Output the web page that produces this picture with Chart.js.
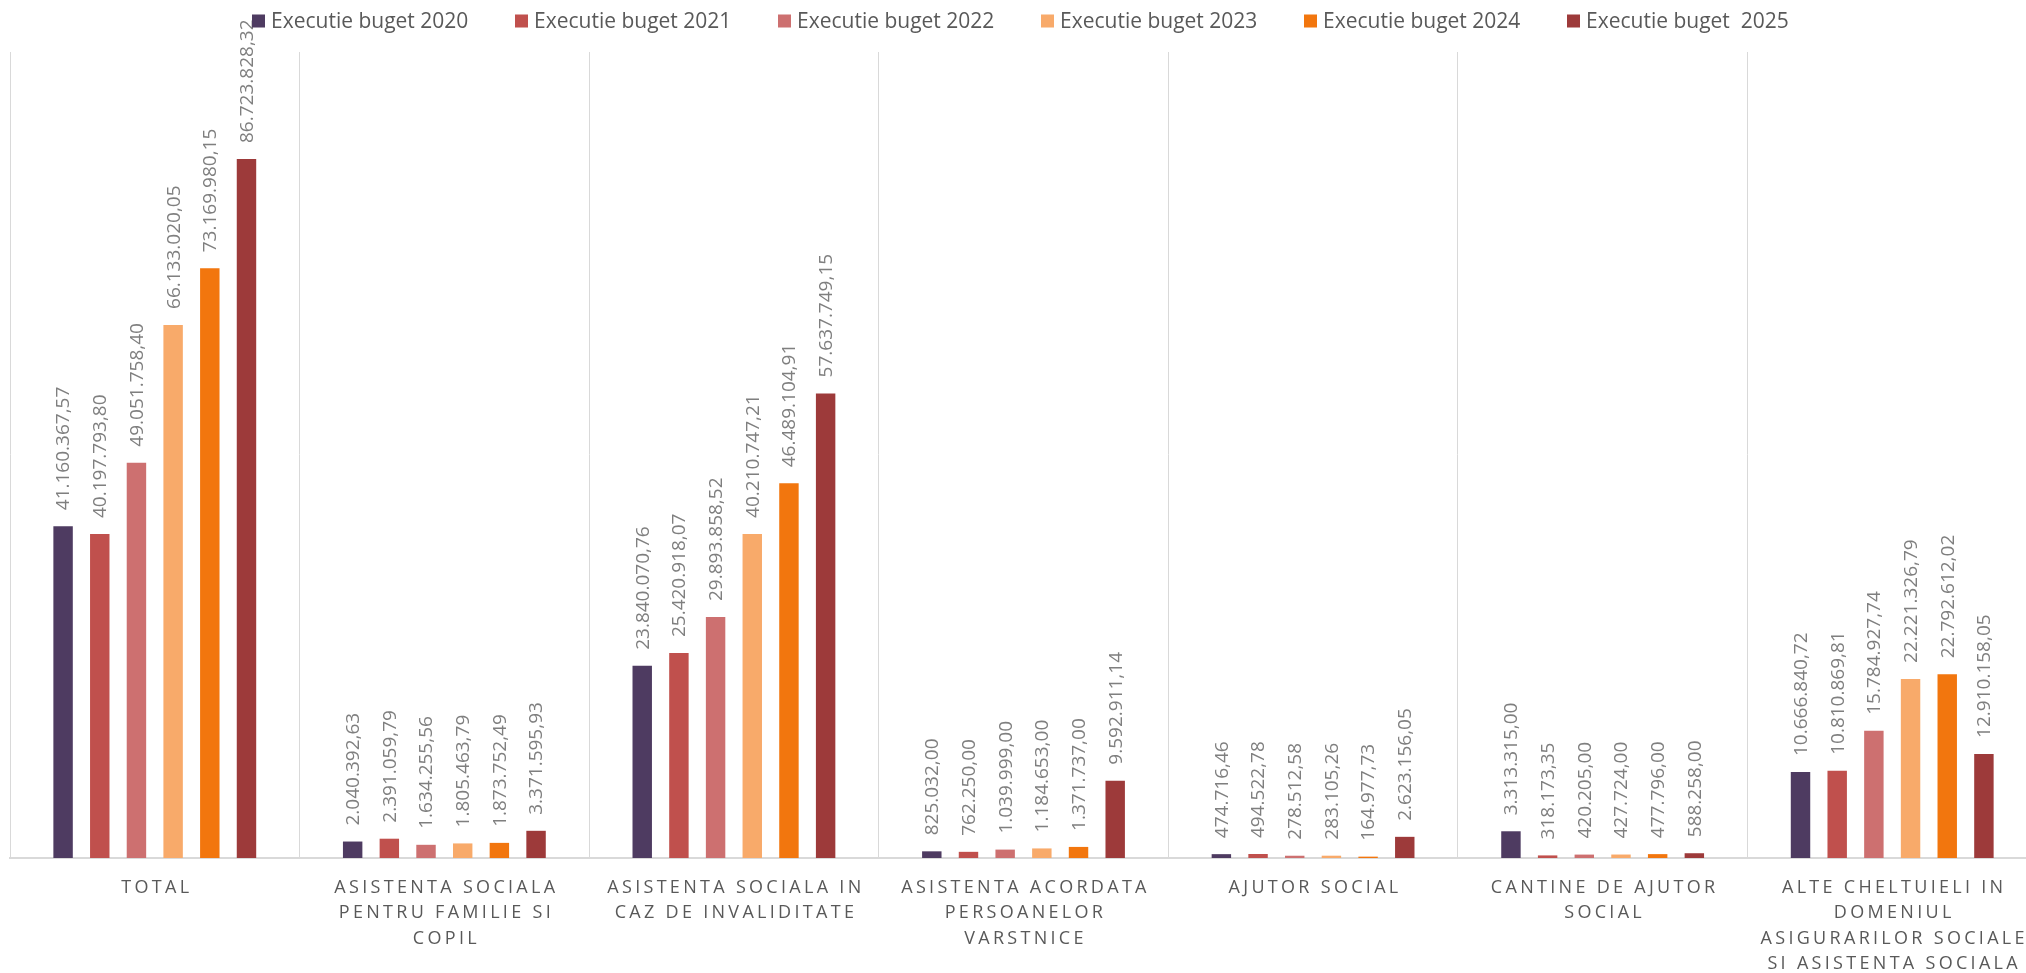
<!DOCTYPE html>
<html>
<head>
<meta charset="utf-8">
<script src="https://cdn.jsdelivr.net/npm/chart.js@4.4.1/dist/chart.umd.min.js"></script>
<style>
  html, body { margin: 0; padding: 0; background: #ffffff; overflow: hidden; }
  #wrap { width: 2026px; height: 973px; overflow: hidden; position: relative; }
  canvas { display: block; }
</style>
</head>
<body>
<div id="wrap"><canvas id="c" width="2040" height="994" style="width:2040px;height:994px"></canvas></div>
<script>
const categories = [
  ["TOTAL"],
  ["ASISTENTA SOCIALA", "PENTRU FAMILIE SI", "COPIL"],
  ["ASISTENTA SOCIALA IN", "CAZ DE INVALIDITATE"],
  ["ASISTENTA ACORDATA", "PERSOANELOR", "VARSTNICE"],
  ["AJUTOR SOCIAL"],
  ["CANTINE DE AJUTOR", "SOCIAL"],
  ["ALTE CHELTUIELI IN", "DOMENIUL", "ASIGURARILOR SOCIALE", "SI ASISTENTA SOCIALA"]
];
const seriesNames = ["Executie buget 2020", "Executie buget 2021", "Executie buget 2022", "Executie buget 2023", "Executie buget 2024", "Executie buget  2025"];
const buget2020 = [41160367.57, 2040392.63, 23840070.76, 825032.00, 474716.46, 3313315.00, 10666840.72];
const buget2021 = [40197793.80, 2391059.79, 25420918.07, 762250.00, 494522.78, 318173.35, 10810869.81];
const buget2022 = [49051758.40, 1634255.56, 29893858.52, 1039999.00, 278512.58, 420205.00, 15784927.74];
const buget2023 = [66133020.05, 1805463.79, 40210747.21, 1184653.00, 283105.26, 427724.00, 22221326.79];
const buget2024 = [73169980.15, 1873752.49, 46489104.91, 1371737.00, 164977.73, 477796.00, 22792612.02];
const buget2025 = [86723828.32, 3371595.93, 57637749.15, 9592911.14, 2623156.05, 588258.00, 12910158.05];
const seriesColors = ["#4e3b61", "#c0504d", "#cd7070", "#f8aa6a", "#f2760e", "#9d3a3a"];
const yMin = 0, yMax = 100000000;

const allSeries = [buget2020, buget2021, buget2022, buget2023, buget2024, buget2025];

function fmtRo(v) {
  const fixed = v.toFixed(2);
  const parts = fixed.split(".");
  const intPart = parts[0].replace(/\B(?=(\d{3})+(?!\d))/g, ".");
  return intPart + "," + parts[1];
}

const dataLabelPlugin = {
  id: "dataLabels",
  afterDatasetsDraw(chart) {
    const ctx = chart.ctx;
    ctx.save();
    ctx.font = "19px 'Open Sans'";
    ctx.fillStyle = "#7f7f7f";
    ctx.textAlign = "left";
    ctx.textBaseline = "middle";
    chart.data.datasets.forEach((ds, i) => {
      const meta = chart.getDatasetMeta(i);
      meta.data.forEach((bar, j) => {
        ctx.save();
        ctx.translate(bar.x + 1, bar.y - 16);
        ctx.rotate(-Math.PI / 2);
        ctx.fillText(fmtRo(ds.data[j]), 0, 0);
        ctx.restore();
      });
    });
    ctx.restore();
  }
};

const legendPlugin = {
  id: "topLegend",
  afterDraw(chart) {
    const ctx = chart.ctx;
    const box = 13, gapText = 6, pitch = 263, cy = 21, startX = 252;
    ctx.save();
    ctx.font = "21px 'Open Sans'";
    ctx.textBaseline = "middle";
    ctx.textAlign = "left";
    chart.data.datasets.forEach((ds, k) => {
      const x = startX + k * pitch;
      ctx.fillStyle = ds.backgroundColor;
      ctx.fillRect(x, cy - box / 2, box, box);
      ctx.fillStyle = "#595959";
      ctx.fillText(ds.label, x + box + gapText, cy + 1);
    });
    ctx.restore();
  }
};

const letterSpacingPlugin = {
  id: "tickLetterSpacing",
  afterLayout(chart) {
    const s = chart.scales.x;
    if (s && !s._lsPatched) {
      const orig = s.drawLabels;
      s.drawLabels = function (area) {
        const ctx = this.ctx;
        ctx.save();
        ctx.letterSpacing = "3.3px";
        ctx.translate(2, 0);
        orig.call(this, area);
        ctx.restore();
      };
      s._lsPatched = true;
    }
  }
};

new Chart(document.getElementById("c"), {
  type: "bar",
  data: {
    labels: categories,
    datasets: allSeries.map((d, i) => ({
      label: seriesNames[i],
      data: d,
      backgroundColor: seriesColors[i],
      borderWidth: 0,
      categoryPercentage: 0.76,
      barPercentage: 0.53
    }))
  },
  options: {
    responsive: false,
    animation: false,
    devicePixelRatio: 1,
    layout: { padding: { left: 10, right: 3, top: 52, bottom: 0 } },
    plugins: {
      legend: { display: false },
      tooltip: { enabled: false }
    },
    scales: {
      x: {
        grid: { display: true, offset: true, color: "#d9d9d9", lineWidth: 1, drawTicks: false },
        border: { display: true, color: "#d9d9d9", width: 2 },
        ticks: {
          autoSkip: false,
          maxRotation: 0,
          minRotation: 0,
          padding: 17,
          color: "#595959",
          font: { family: "'Open Sans'", size: 18, lineHeight: 1.417 }
        }
      },
      y: {
        display: false,
        min: yMin,
        max: yMax
      }
    }
  },
  plugins: [dataLabelPlugin, legendPlugin, letterSpacingPlugin]
});
</script>
</body>
</html>
